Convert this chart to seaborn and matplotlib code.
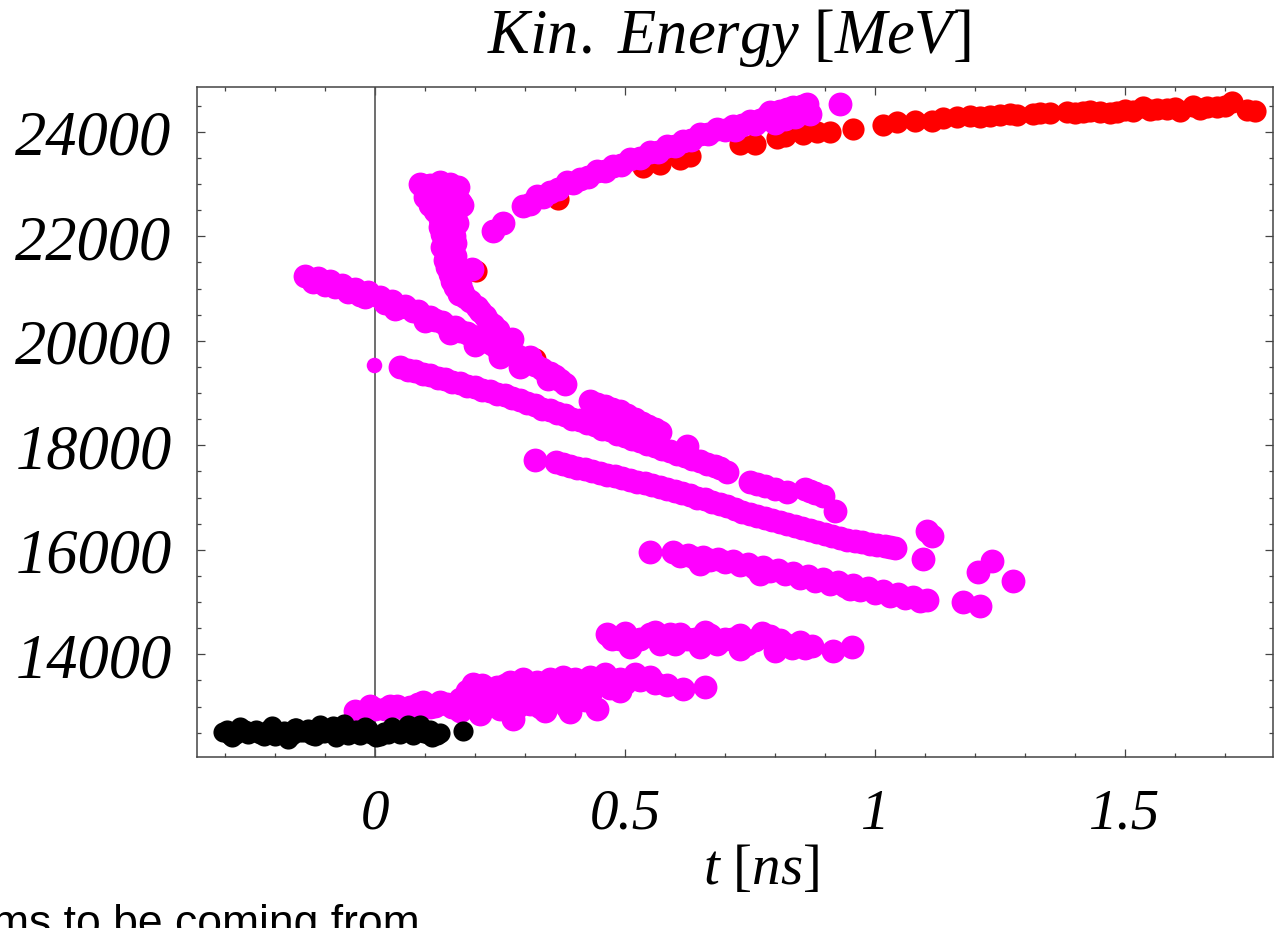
import matplotlib
matplotlib.use("Agg")
import matplotlib.pyplot as plt
import seaborn as sns
from matplotlib.ticker import MultipleLocator, FixedLocator, FixedFormatter

# ---------------- data (t in ns, kinetic energy in MeV) ----------------
red_t = [0.202, 0.32, 0.366, 0.536, 0.57, 0.61, 0.63, 0.73, 0.76, 0.804,
         0.82, 0.856, 0.884, 0.91, 0.956, 1.016, 1.044, 1.08, 1.114, 1.136,
         1.164, 1.19, 1.21, 1.23, 1.25, 1.27, 1.284, 1.316, 1.33, 1.35,
         1.384, 1.40, 1.416, 1.43, 1.45, 1.47, 1.484, 1.50, 1.516, 1.536,
         1.55, 1.564, 1.584, 1.60, 1.61, 1.636, 1.65, 1.664, 1.684, 1.70,
         1.714, 1.744, 1.76]
red_e = [21335, 19650, 22712, 23324, 23382, 23477, 23535, 23764, 23764, 23879,
         23918, 23956, 23994, 23994, 24051, 24128, 24185, 24205, 24205, 24262,
         24281, 24300, 24281, 24300, 24319, 24340, 24319, 24338, 24360, 24357,
         24377, 24350, 24377, 24400, 24377, 24360, 24377, 24410, 24396, 24472,
         24420, 24434, 24434, 24450, 24396, 24492, 24440, 24472, 24472, 24500,
         24568, 24415, 24396]

arc_t = [0.236, 0.256, 0.296, 0.31, 0.324, 0.337, 0.35, 0.367, 0.384, 0.397,
         0.41, 0.427, 0.444, 0.46, 0.476, 0.493, 0.51, 0.53, 0.55, 0.567,
         0.584, 0.60, 0.616, 0.633, 0.65, 0.667, 0.684, 0.70, 0.716, 0.72,
         0.735, 0.75, 0.76, 0.77, 0.784, 0.79, 0.80, 0.81, 0.82, 0.825,
         0.836, 0.84, 0.85, 0.855, 0.864, 0.87, 0.93]
arc_e = [22100, 22250, 22578, 22620, 22769, 22760, 22846, 22900, 23037, 23020,
         23095, 23130, 23248, 23250, 23343, 23370, 23477, 23500, 23611, 23620,
         23726, 23720, 23822, 23850, 23956, 23960, 24051, 24040, 24109, 24040,
         24120, 24205, 24150, 24220, 24300, 24380, 24166, 24396, 24250, 24440,
         24472, 24281, 24400, 24500, 24530, 24338, 24530]

hook_t = [0.09, 0.11, 0.13, 0.15, 0.166, 0.10, 0.12, 0.14, 0.16, 0.10,
          0.12, 0.146, 0.17, 0.11, 0.13, 0.155, 0.174, 0.12, 0.14, 0.16,
          0.13, 0.15, 0.165, 0.13, 0.155, 0.135, 0.158, 0.14, 0.16, 0.134,
          0.155, 0.145, 0.16, 0.14, 0.158, 0.145, 0.162, 0.15, 0.165, 0.155,
          0.17, 0.16, 0.175, 0.168, 0.18, 0.19, 0.204, 0.21, 0.22, 0.226,
          0.236, 0.246, 0.274, 0.31, 0.194]
hook_e = [23000, 22980, 23037, 23000, 22942, 22850, 22870, 22880, 22820, 22750,
          22700, 22712, 22650, 22600, 22580, 22560, 22600, 22480, 22450, 22400,
          22330, 22300, 22250, 22176, 22150, 22050, 22000, 21900, 21880, 21794,
          21760, 21680, 21620, 21540, 21480, 21411, 21330, 21280, 21220, 21140,
          21080, 21028, 20960, 20900, 20837, 20760, 20650, 20569, 20480, 20378,
          20300, 20200, 20033, 19689, 21373]

lineA_t = [-0.14, -0.125, -0.114, -0.1, -0.09, -0.08, -0.066, -0.055, -0.04, -0.03,
           -0.02, -0.014, 0.01, 0.02, 0.034, 0.04, 0.05, 0.06, 0.075, 0.086,
           0.095, 0.10, 0.11, 0.12, 0.134, 0.145, 0.15, 0.16, 0.17, 0.184,
           0.195, 0.20, 0.21, 0.22, 0.234, 0.245, 0.25, 0.26, 0.27, 0.286,
           0.29, 0.30, 0.31, 0.32, 0.334, 0.346, 0.35, 0.36, 0.37, 0.38,
           0.43, 0.445, 0.46, 0.475, 0.49, 0.505, 0.52, 0.535, 0.546, 0.56,
           0.57, 0.624]
lineA_e = [21239, 21120, 21200, 21060, 21143, 21028, 21066, 20930, 20990, 20875,
           20830, 20933, 20837, 20730, 20760, 20607, 20640, 20665, 20560, 20569,
           20470, 20378, 20454, 20390, 20359, 20290, 20148, 20263, 20190, 20148,
           20090, 19918, 20033, 19990, 19937, 19870, 19688, 19803, 19760, 19708,
           19497, 19640, 19593, 19540, 19459, 19268, 19380, 19325, 19250, 19172,
           18847, 18790, 18751, 18700, 18656, 18580, 18502, 18430, 18368, 18320,
           18254, 17985]

lineB_t = [0.05, 0.065, 0.08, 0.095, 0.11, 0.125, 0.14, 0.155, 0.17, 0.185,
           0.20, 0.215, 0.23, 0.245, 0.26, 0.275, 0.29, 0.305, 0.32, 0.335,
           0.35, 0.365, 0.38, 0.395, 0.41, 0.425, 0.44, 0.455, 0.47, 0.485,
           0.50, 0.515, 0.53, 0.545, 0.56, 0.575, 0.59, 0.605, 0.62, 0.635,
           0.65, 0.665, 0.68, 0.69, 0.704, 0.75, 0.765, 0.78, 0.80, 0.824,
           0.86, 0.87, 0.88, 0.896, 0.92]
lineB_e = [19497, 19440, 19421, 19360, 19344, 19290, 19268, 19210, 19191, 19140,
           19115, 19060, 19038, 18980, 18962, 18900, 18866, 18800, 18770, 18700,
           18675, 18610, 18579, 18510, 18483, 18420, 18388, 18320, 18292, 18220,
           18177, 18120, 18082, 18020, 17985, 17920, 17890, 17830, 17794, 17730,
           17699, 17640, 17603, 17560, 17488, 17297, 17260, 17220, 17160, 17105,
           17163, 17120, 17086, 17029, 16742]

lineC_t = [0.32, 0.362, 0.376, 0.39, 0.405, 0.42, 0.435, 0.45, 0.465, 0.48,
           0.495, 0.51, 0.525, 0.54, 0.555, 0.57, 0.585, 0.60, 0.615, 0.63,
           0.645, 0.66, 0.675, 0.69, 0.705, 0.72, 0.735, 0.75, 0.765, 0.78,
           0.795, 0.81, 0.825, 0.84, 0.855, 0.87, 0.885, 0.90, 0.915, 0.93,
           0.945, 0.96, 0.975, 0.99, 1.005, 1.02, 1.03, 1.04, 1.104, 1.114,
           1.096]
lineC_e = [17718, 17679, 17640, 17603, 17570, 17545, 17510, 17469, 17440, 17412,
           17370, 17335, 17300, 17278, 17240, 17201, 17160, 17125, 17090, 17048,
           17000, 16972, 16920, 16876, 16830, 16780, 16730, 16684, 16640, 16608,
           16570, 16531, 16490, 16455, 16410, 16378, 16340, 16302, 16260, 16225,
           16190, 16168, 16140, 16110, 16090, 16072, 16050, 16034, 16359, 16263,
           15823]

lineD_t = [0.55, 0.596, 0.61, 0.626, 0.64, 0.65, 0.656, 0.67, 0.686, 0.70,
           0.716, 0.73, 0.746, 0.76, 0.77, 0.776, 0.79, 0.806, 0.82, 0.836,
           0.85, 0.866, 0.88, 0.896, 0.91, 0.926, 0.94, 0.95, 0.956, 0.97,
           0.986, 1.0, 1.016, 1.03, 1.046, 1.06, 1.076, 1.09, 1.104, 1.176,
           1.21, 1.206, 1.234, 1.276]
lineD_e = [15957, 15957, 15880, 15900, 15840, 15728, 15862, 15800, 15823, 15760,
           15785, 15700, 15728, 15650, 15537, 15670, 15590, 15613, 15530, 15556,
           15470, 15498, 15410, 15441, 15350, 15383, 15300, 15249, 15326, 15240,
           15268, 15180, 15211, 15120, 15154, 15070, 15096, 15020, 15039, 15000,
           14924, 15575, 15785, 15402]

bandE_t = [0.464, 0.475, 0.49, 0.50, 0.51, 0.53, 0.55, 0.56, 0.57, 0.58,
           0.59, 0.60, 0.61, 0.625, 0.64, 0.65, 0.66, 0.67, 0.685, 0.70,
           0.715, 0.73, 0.73, 0.745, 0.76, 0.775, 0.79, 0.80, 0.81, 0.82,
           0.835, 0.85, 0.86, 0.874, 0.916, 0.954]
bandE_e = [14389, 14300, 14293, 14400, 14140, 14300, 14380, 14420, 14197, 14293,
           14380, 14200, 14389, 14300, 14293, 14140, 14420, 14370, 14200, 14293,
           14300, 14370, 14101, 14200, 14274, 14400, 14350, 14063, 14280, 14197,
           14120, 14235, 14120, 14159, 14063, 14140]

bandF_t = [-0.04, -0.01, 0.0, 0.02, 0.03, 0.044, 0.06, 0.07, 0.085, 0.096,
           0.11, 0.12, 0.13, 0.144, 0.155, 0.17, 0.17, 0.18, 0.185, 0.196,
           0.20, 0.21, 0.215, 0.22, 0.23, 0.235, 0.244, 0.25, 0.26, 0.265,
           0.27, 0.276, 0.28, 0.285, 0.29, 0.296, 0.30, 0.31, 0.32, 0.324,
           0.33, 0.34, 0.345, 0.35, 0.355, 0.36, 0.37, 0.376, 0.38, 0.385,
           0.39, 0.40, 0.41, 0.42, 0.43, 0.43, 0.444, 0.45, 0.46, 0.47,
           0.49, 0.49, 0.50, 0.52, 0.53, 0.55, 0.56, 0.584, 0.616, 0.66]
bandF_e = [12915, 13011, 12960, 12953, 13020, 13011, 12960, 12992, 13050, 13087,
           12990, 13011, 13080, 13049, 13000, 13145, 12915, 13060, 13300, 13431,
           13200, 12858, 13420, 13336, 13145, 13250, 13374, 12953, 13420, 13100,
           13470, 12761, 13300, 12990, 13240, 13527, 13400, 13049, 13200, 13470,
           12990, 12915, 13350, 13527, 13100, 13480, 13145, 13566, 13300, 13000,
           12896, 13527, 13400, 13120, 13566, 13240, 12953, 13450, 13623, 13350,
           13527, 13298, 13450, 13623, 13500, 13566, 13460, 13412, 13336, 13374]

small_t = [-0.003]
small_e = [19541]

black_t = [-0.304, -0.296, -0.29, -0.286, -0.278, -0.27, -0.26, -0.254, -0.245, -0.238,
           -0.23, -0.222, -0.215, -0.206, -0.20, -0.19, -0.182, -0.174, -0.166, -0.16,
           -0.158, -0.15, -0.142, -0.134, -0.126, -0.12, -0.11, -0.102, -0.094, -0.085,
           -0.078, -0.07, -0.062, -0.055, -0.046, -0.038, -0.03, -0.02, -0.014, -0.008,
           0.002, 0.01, 0.018, 0.026, 0.034, 0.04, 0.05, 0.058, 0.066, 0.075,
           0.082, 0.09, 0.098, 0.105, 0.11, 0.114, 0.124, 0.13, 0.176]
black_e = [12513, 12560, 12450, 12417, 12470, 12608, 12560, 12475, 12520, 12551,
           12480, 12436, 12560, 12627, 12440, 12494, 12530, 12379, 12460, 12600,
           12589, 12520, 12513, 12580, 12456, 12440, 12646, 12500, 12551, 12620,
           12417, 12520, 12666, 12460, 12494, 12560, 12456, 12610, 12570, 12470,
           12417, 12430, 12513, 12470, 12608, 12560, 12475, 12530, 12646, 12460,
           12532, 12640, 12494, 12470, 12560, 12417, 12456, 12500, 12532]

xtick_vals = [0, 0.5, 1, 1.5]
xtick_labels = ["0", "0.5", "1", "1.5"]
ytick_vals = [14000, 16000, 18000, 20000, 22000, 24000]
ytick_labels = ["14000", "16000", "18000", "20000", "22000", "24000"]

# ---------------- style ----------------
sns.set_style("ticks")
plt.rcParams["font.family"] = ["Liberation Serif", "DejaVu Serif"]
plt.rcParams["mathtext.fontset"] = "custom"
plt.rcParams["mathtext.rm"] = "Liberation Serif"
plt.rcParams["mathtext.it"] = "Liberation Serif:italic"
plt.rcParams["text.color"] = "black"
plt.rcParams["xtick.color"] = "#444444"
plt.rcParams["ytick.color"] = "#444444"
plt.rcParams["xtick.labelcolor"] = "black"
plt.rcParams["ytick.labelcolor"] = "black"

fig = plt.figure(figsize=(12.74, 9.29), dpi=100)
ax = fig.add_axes([0.1544, 0.1837, 0.8448, 0.7212])

magenta_t = arc_t + hook_t + lineA_t + lineB_t + lineC_t + lineD_t + bandE_t + bandF_t
magenta_e = arc_e + hook_e + lineA_e + lineB_e + lineC_e + lineD_e + bandE_e + bandF_e

ax.axvline(0, color="#555555", lw=1.2, zorder=1)

sns.scatterplot(x=red_t, y=red_e, color="#ff0000", s=255, linewidth=0, ax=ax, zorder=2)
sns.scatterplot(x=magenta_t, y=magenta_e, color="#ff00ff", s=295, linewidth=0, ax=ax, zorder=3)
sns.scatterplot(x=small_t, y=small_e, color="#ff00ff", s=125, linewidth=0, ax=ax, zorder=3)
sns.scatterplot(x=black_t, y=black_e, color="#000000", s=210, linewidth=0, ax=ax, zorder=4)

ax.set_xlim(-0.3566, 1.796)
ax.set_ylim(12029, 24849)

ax.xaxis.set_major_locator(FixedLocator(xtick_vals))
ax.xaxis.set_major_formatter(FixedFormatter(xtick_labels))
ax.xaxis.set_minor_locator(MultipleLocator(0.1))
ax.yaxis.set_major_locator(FixedLocator(ytick_vals))
ax.yaxis.set_major_formatter(FixedFormatter(ytick_labels))
ax.yaxis.set_minor_locator(MultipleLocator(500))

for side in ["left", "right", "top", "bottom"]:
    ax.spines[side].set_visible(True)
    ax.spines[side].set_color("#444444")
    ax.spines[side].set_linewidth(1.1)

ax.tick_params(which="both", direction="in", top=True, right=True, color="#444444", width=0.9)
ax.tick_params(which="major", length=5.8)
ax.tick_params(which="minor", length=2.9)
ax.tick_params(axis="y", which="major", labelsize=45, pad=18, labelcolor="black")
ax.tick_params(axis="x", which="major", labelsize=41, pad=22, labelcolor="black")
for lab in ax.get_xticklabels() + ax.get_yticklabels():
    lab.set_fontstyle("italic")
    lab.set_family("Liberation Serif")

ax.set_xlabel("")
ax.set_ylabel("")

fig.text(0.572, 0.943, r"$Kin.\ Energy\ [MeV]$", ha="center", va="baseline",
         fontsize=45, color="black")
fig.text(0.597, 0.048, r"$t\ [ns]$", ha="center", va="baseline", fontsize=41, color="black")
fig.text(-0.006, -0.008, "ms to be coming from", ha="left", va="baseline",
         fontsize=32, family="Liberation Sans", color="black")

fig.savefig("out.png", dpi=100)
